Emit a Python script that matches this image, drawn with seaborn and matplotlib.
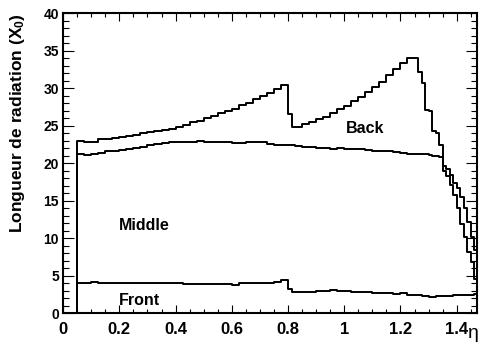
import numpy as np
import pandas as pd
import matplotlib
matplotlib.use("Agg")
import matplotlib.pyplot as plt
import seaborn as sns
from matplotlib.ticker import MultipleLocator, FormatStrFormatter

# eta bin edges: 0.025 wide, finer (0.0125) around the 0.8 step and in the end-cap fall-off
eta_edges = np.round(np.concatenate([
    np.linspace(0, 0.8, 33),
    [0.8125],
    np.linspace(0.825, 1.25, 18),
    np.linspace(1.2625, 1.475, 18),
]), 4)

# cumulative radiation length (X0) after each layer
front = [0, 0, 4.1, 4.1, 4.2, 4.1, 4.1, 4.1, 4.1, 4.1, 4.05, 4.05, 4.0, 4.0, 4.0, 4.0,
         4.0, 3.95, 3.95, 3.9, 3.9, 3.9, 3.85, 3.9, 3.8, 4.0, 4.0, 4.1, 4.0, 4.1, 4.2, 4.4,
         3.2, 2.9,
         2.9, 2.9, 2.9, 2.95, 3.0, 3.1, 3.0, 2.95, 2.9, 2.9, 2.8, 2.75, 2.7, 2.65, 2.6, 2.7, 2.5,
         2.45, 2.4, 2.3, 2.25, 2.2, 2.2, 2.25, 2.3, 2.3, 2.35, 2.3, 2.4, 2.4, 2.45, 2.4, 2.45, 2.5, 2.6]

middle = [0, 0, 21.2, 21.1, 21.3, 21.4, 21.6, 21.7, 21.8, 21.9, 22.0, 22.2, 22.4, 22.6, 22.7, 22.8,
          22.8, 22.9, 22.9, 23.0, 22.9, 22.9, 22.8, 22.8, 22.7, 22.7, 22.8, 22.9, 22.8, 22.6, 22.5, 22.5,
          22.4, 22.4,
          22.3, 22.2, 22.2, 22.1, 22.0, 21.9, 22.0, 21.9, 21.9, 21.9, 21.8, 21.7, 21.6, 21.6, 21.5, 21.4, 21.3,
          21.3, 21.3, 21.2, 21.2, 21.1, 21.0, 21.0, 20.9, 19.0, 18.3, 17.1, 15.8, 14.0, 11.9, 10.2, 8.2, 6.8, 4.6]

back = [0, 0, 23.0, 22.9, 22.9, 23.2, 23.2, 23.4, 23.5, 23.7, 23.8, 24.0, 24.2, 24.3, 24.5, 24.6,
        24.8, 25.1, 25.5, 25.7, 26.0, 26.3, 26.7, 27.0, 27.3, 27.8, 28.1, 28.6, 29.0, 29.4, 29.9, 30.5,
        26.6, 24.8,
        24.8, 25.2, 25.5, 25.9, 26.2, 26.7, 27.2, 27.7, 28.3, 28.8, 29.5, 30.2, 30.9, 31.8, 32.6, 33.4, 34.1,
        34.0, 32.2, 30.7, 27.1, 27.0, 24.3, 24.1, 22.4, 19.6, 19.3, 18.4, 17.4, 16.7, 15.5, 14.0, 12.2, 10.2, 8.4]

sns.set_style("ticks")
plt.rcParams['font.family'] = ['Liberation Sans', 'DejaVu Sans']
plt.rcParams['font.weight'] = 'bold'
plt.rcParams['mathtext.fontset'] = 'custom'
plt.rcParams['mathtext.rm'] = 'Liberation Sans:bold'
plt.rcParams['mathtext.default'] = 'rm'
for key in ('text.color', 'axes.labelcolor', 'xtick.color', 'ytick.color', 'axes.edgecolor'):
    plt.rcParams[key] = 'black'

fig = plt.figure(figsize=(4.8, 3.5), dpi=100)
ax = fig.add_axes([0.1315, 0.105, 0.8615, 0.857])

centers = (eta_edges[:-1] + eta_edges[1:]) / 2
bins = eta_edges.tolist()
for vals in (back, middle, front):
    df = pd.DataFrame({"eta": centers, "x0": vals})
    sns.histplot(data=df, x="eta", weights="x0", bins=bins, element="step", fill=False,
                 color="black", linewidth=1.4, ax=ax)

ax.set_xlim(0, 1.471)
ax.set_ylim(0, 40)
ax.xaxis.set_major_locator(MultipleLocator(0.2))
ax.xaxis.set_minor_locator(MultipleLocator(0.05))
ax.yaxis.set_major_locator(MultipleLocator(5))
ax.yaxis.set_minor_locator(MultipleLocator(1))
ax.xaxis.set_major_formatter(FormatStrFormatter('%g'))

ax.tick_params(which='both', direction='in', top=True, right=True, width=0.8, colors='black')
ax.tick_params(axis='x', which='major', length=6, labelsize=12, pad=6)
ax.tick_params(axis='x', which='minor', length=3)
ax.tick_params(axis='y', which='major', length=8, labelsize=10, pad=3)
ax.tick_params(axis='y', which='minor', length=4)
for s in ax.spines.values():
    s.set_linewidth(1.5)
    s.set_color('black')

ax.set_ylabel(r"Longueur de radiation (X$_{0}$)", fontsize=12.5, fontweight='bold', loc='top')
ax.yaxis.set_label_coords(-0.087, 1.0)
ax.set_xlabel("η", fontsize=14, fontweight='normal')
ax.xaxis.label.set_ha('left')
ax.xaxis.set_label_coords(0.978, -0.04)

ax.text(0.2, 1.1, "Front", fontsize=11.5, fontweight='bold', va='baseline')
ax.text(0.2, 11.1, "Middle", fontsize=11.5, fontweight='bold', va='baseline')
ax.text(1.005, 24.0, "Back", fontsize=11.5, fontweight='bold', va='baseline')

fig.savefig("out.png", dpi=100)
